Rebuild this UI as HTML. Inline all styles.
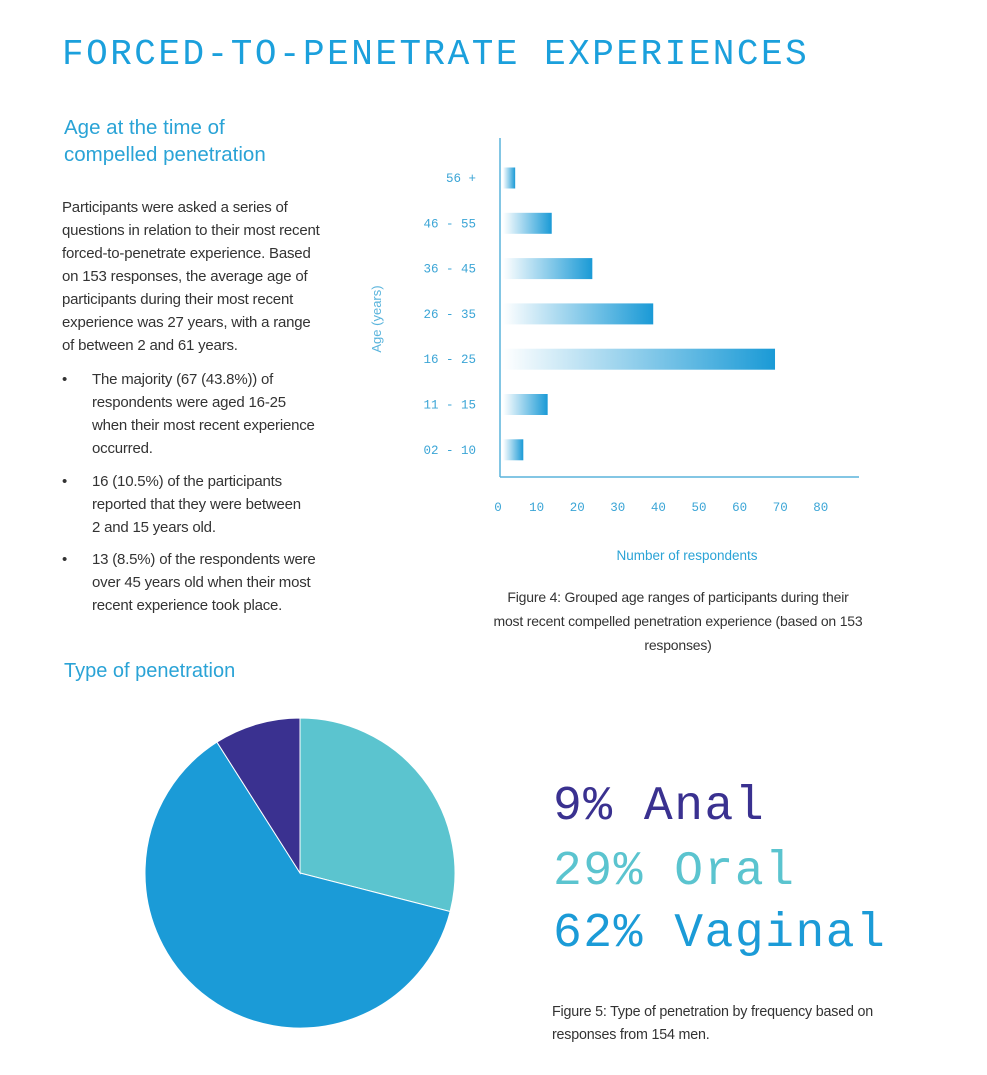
<!DOCTYPE html>
<html><head><meta charset="utf-8"><style>
body{margin:0;width:987px;height:1075px;background:#fff;position:relative;overflow:hidden;font-family:"Liberation Sans",sans-serif}
.a{position:absolute;white-space:nowrap}
.t{font-size:15px;color:#333;line-height:23px;letter-spacing:-0.2px}
.mono{font-family:"Liberation Mono",monospace}
</style></head><body>
<div class="a mono" style="left:62px;top:34px;font-size:36px;color:#1ba0dc;letter-spacing:2.5px">FORCED-TO-PENETRATE EXPERIENCES</div>
<div class="a" style="left:64px;top:114px;font-size:20.5px;color:#2aa3d6;line-height:27px">Age at the time of<br>compelled penetration</div>
<div class="a t" style="left:62px;top:196px">Participants were asked a series of<br>questions in relation to their most recent<br>forced-to-penetrate experience. Based<br>on 153 responses, the average age of<br>participants during their most recent<br>experience was 27 years, with a range<br>of between 2 and 61 years.</div>
<div class="a t" style="left:62px;top:368px">•</div>
<div class="a t" style="left:92px;top:368px">The majority (67 (43.8%)) of<br>respondents were aged 16-25<br>when their most recent experience<br>occurred.</div>
<div class="a t" style="left:62px;top:470px">•</div>
<div class="a t" style="left:92px;top:470px">16 (10.5%) of the participants<br>reported that they were between<br>2 and 15 years old.</div>
<div class="a t" style="left:62px;top:548px">•</div>
<div class="a t" style="left:92px;top:548px">13 (8.5%) of the respondents were<br>over 45 years old when their most<br>recent experience took place.</div>

<svg class="a" style="left:0;top:0" width="987" height="700">
<defs><linearGradient id="g" x1="0" x2="1"><stop offset="0" stop-color="#fff"/><stop offset="1" stop-color="#1a9ad6"/></linearGradient></defs>
<g id="bars"></g>
<line x1="500" y1="138" x2="500" y2="477" stroke="#5ab4dc" stroke-width="1.5"/>
<line x1="500" y1="477" x2="859" y2="477" stroke="#5ab4dc" stroke-width="1.5"/>
<text x="381" y="319" transform="rotate(-90 381 319)" text-anchor="middle" font-size="13" fill="#5ab4dc" font-family="Liberation Sans">Age (years)</text>
<text x="687" y="560" text-anchor="middle" font-size="13.5" fill="#2aa3d6" font-family="Liberation Sans">Number of respondents</text>
</svg>
<div class="a t" style="left:470px;top:585px;width:416px;text-align:center;line-height:24px;font-size:14px">Figure 4: Grouped age ranges of participants during their<br>most recent compelled penetration experience (based on 153<br>responses)</div>

<div class="a" style="left:64px;top:660px;font-size:20px;color:#2aa3d6">Type of penetration</div>
<svg class="a" style="left:0;top:700px" width="987" height="375"><g id="pie"></g></svg>
<div class="a mono" style="left:553px;top:780px;font-size:48px;color:#3a3190;letter-spacing:1.5px">9% Anal</div>
<div class="a mono" style="left:553px;top:845px;font-size:48px;color:#5bc4cf;letter-spacing:1.5px">29% Oral</div>
<div class="a mono" style="left:553px;top:907px;font-size:48px;color:#1b9bd7;letter-spacing:1.5px">62% Vaginal</div>
<div class="a t" style="left:552px;top:1001px;font-size:14.3px">Figure 5: Type of penetration by frequency based on<br>responses from 154 men.</div>
<script>
const categories=["56 +","46 - 55","36 - 45","26 - 35","16 - 25","11 - 15","02 - 10"];
const counts=[3,12,22,37,67,11,5];
const ticks=[0,10,20,30,40,50,60,70,80];
const pieLabels=["Oral","Vaginal","Anal"];
const pieValues=[29,62,9];
const pieColors=["#5bc4cf","#1b9bd7","#3a3190"];
const NS="http://www.w3.org/2000/svg";
const x=v=>503+v*4.06, y=i=>178+i*45.3;
const g=document.getElementById('bars');
function mk(t,a,p){const e=document.createElementNS(NS,t);for(const k in a)e.setAttribute(k,a[k]);p.appendChild(e);return e;}
categories.forEach((c,i)=>{
 const r=mk('rect',{x:x(0),y:y(i)-10.5,width:x(counts[i])-x(0),height:21,fill:'url(#g)'},g);
 
 
 const t=mk('text',{x:476,y:y(i)+4,'text-anchor':'end','font-size':12.5,fill:'#3ba5d6','font-family':'Liberation Mono'},g);
 t.textContent=c.replace(/ /g,'\u00a0');
 
 
});
ticks.forEach(v=>{
 const t=mk('text',{x:v?x(v)-7:498,y:511,'text-anchor':'middle','font-size':12.5,fill:'#3ba5d6','font-family':'Liberation Mono'},g);
 t.textContent=v;
 
 
});
const pg=document.getElementById('pie');const cx=300,cy=173,R=155;
const tot=pieValues.reduce((a,b)=>a+b,0);let a0=-Math.PI/2;
pieValues.forEach((v,i)=>{
 const a1=a0+v/tot*2*Math.PI;
 const p=mk('path',{d:`M${cx},${cy}L${cx+R*Math.cos(a0)},${cy+R*Math.sin(a0)}A${R},${R} 0 ${a1-a0>Math.PI?1:0} 1 ${cx+R*Math.cos(a1)},${cy+R*Math.sin(a1)}Z`,fill:pieColors[i],stroke:'#fff','stroke-width':1},pg);
 
 
 a0=a1;
});
</script>
</body></html>
